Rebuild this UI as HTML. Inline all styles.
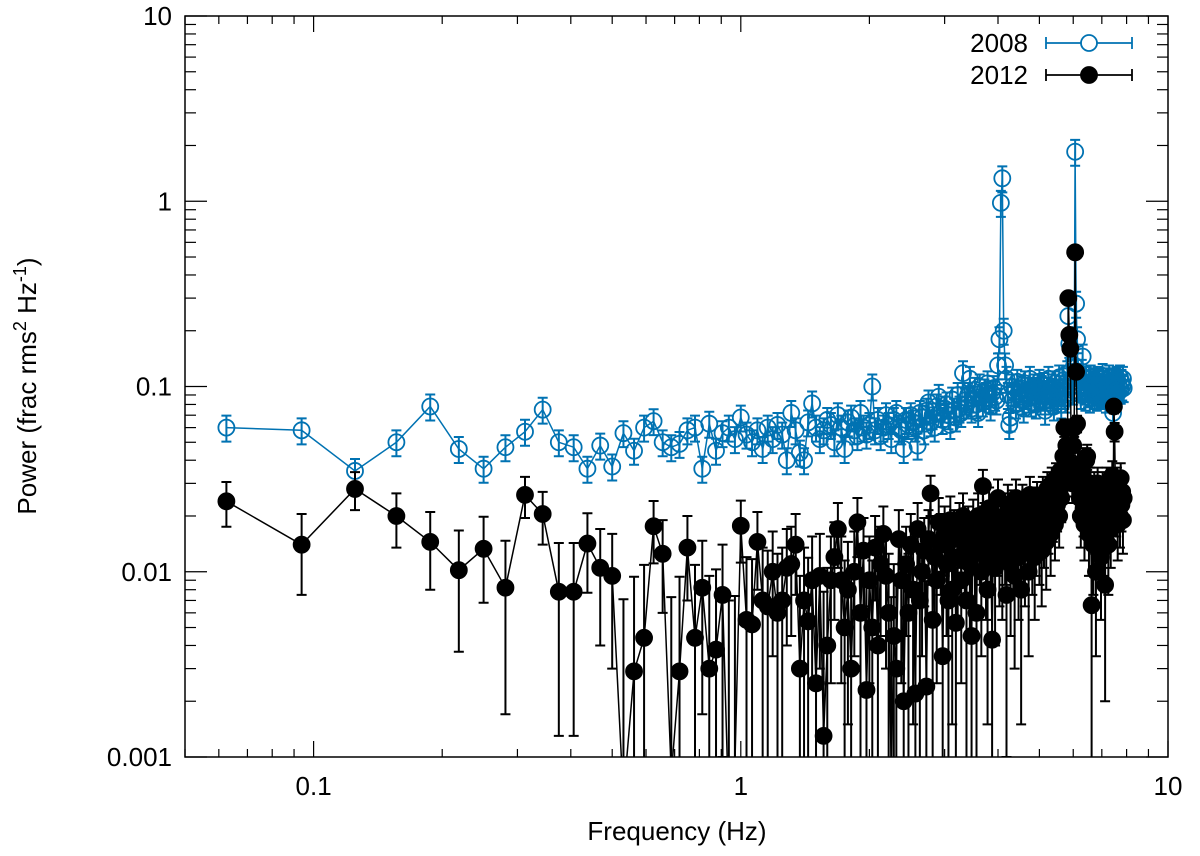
<!DOCTYPE html>
<html><head><meta charset="utf-8"><style>
html,body{margin:0;padding:0;background:#fff;width:1200px;height:856px;overflow:hidden}
svg{display:block;font-family:"Liberation Sans",sans-serif}
</style></head><body>
<svg id="chart" width="1200" height="856" viewBox="0 0 1200 856" xmlns="http://www.w3.org/2000/svg">
<defs><clipPath id="clip"><rect x="185" y="16" width="983" height="741"/></clipPath></defs>
<g id="plot" clip-path="url(#clip)"></g>
<rect x="185" y="16" width="983" height="741" fill="none" stroke="#000" stroke-width="1.5"/>
<g id="axes"></g>
<text x="677" y="840" font-size="26" text-anchor="middle">Frequency (Hz)</text>
<text transform="translate(36,386) rotate(-90)" font-size="26" text-anchor="middle">Power (frac rms<tspan dy="-10" font-size="18">2</tspan><tspan dy="10"> Hz</tspan><tspan dy="-10" font-size="18">-1</tspan><tspan dy="10">)</tspan></text>
<g id="legend"></g>
</svg>
<script>
const binWidth = 1/32;
const startBin = 2;
const xTickValues = [0.1, 1, 10];
const xTickLabels = ["0.1", "1", "10"];
const yTickValues = [0.001, 0.01, 0.1, 1, 10];
const yTickLabels = ["0.001", "0.01", "0.1", "1", "10"];
const seriesNames = ["2008", "2012"];
const blueRelErr = 0.16;
const blackAbsErr = 0.0065;
const power2008 = [0.060,0.058,0.035,0.050,0.078,0.046,0.036,0.047,0.057,0.075,0.050,0.047,0.036,0.048,0.037,0.056,0.045,0.060,0.065,0.050,0.047,0.049,0.058,0.060,0.036,0.063,0.045,0.056,0.060,0.052,0.068,
0.055,0.050,0.058,0.046,0.060,0.052,0.062,0.055,0.040,0.072,0.058,0.044,0.040,0.064,0.081,0.060,0.052,0.058,0.066,0.062,0.050,0.070,0.060,0.046,0.064,0.068,0.058,0.054,0.072,0.060,0.055,0.062,
0.100,0.058,0.066,0.054,0.060,0.070,0.062,0.052,0.066,0.072,0.060,0.058,0.046,0.066,0.062,0.070,0.064,0.060,0.048,0.072,0.068,0.058,0.074,0.082,0.064,0.070,0.060,0.078,0.088,0.072,0.066,0.076,
0.080,0.070,0.062,0.085,0.074,0.068,0.090,0.076,0.072,0.118,0.084,0.080,0.090,0.110,0.076,0.086,0.096,0.080,0.072,0.100,0.088,0.082,0.094,0.090,0.104,0.086,0.078,0.092,0.098,0.088,0.084,0.130,0.180,
0.98,1.33,0.20,0.13,0.11,
0.090,0.062,0.068,0.100,0.086,0.094,0.080,0.106,0.092,0.088,0.098,0.084,0.076,0.104,0.090,0.096,0.086,0.110,0.082,0.094,0.100,0.088,0.080,0.096,0.092,0.106,0.084,0.098,0.090,0.102,0.074,0.088,0.096,0.110,0.092,0.084,0.100,0.088,0.078,0.104,0.094,0.090,0.086,0.112,0.098,0.080,0.094,0.108,0.090,0.086,0.100,0.118,
0.24,0.17,0.12,0.10,0.11,0.095,0.13,1.85,0.28,0.18,0.12,0.10,
0.100,0.090,0.120,0.145,0.105,0.095,0.088,0.110,0.098,0.092,0.104,0.086,0.112,0.100,0.094,0.108,0.090,0.102,0.096,0.088,0.110,0.098,0.106,0.092,0.100,0.094,0.114,0.090,0.104,0.096,0.086,0.108,0.100,0.094,0.112,0.098,0.090,0.106,0.102,0.072,0.096,0.108,0.094,0.100,0.110,0.092,0.104,0.098,0.112,0.096,0.106,0.100,0.110,0.098];
const power2012 = [0.024,0.014,0.028,0.020,0.0145,0.0102,0.0133,0.0082,0.026,0.0205,0.0078,0.0078,0.0142,0.0105,0.0095,0.0006,0.0029,0.0044,0.0176,0.0125,0.0008,0.0029,0.0135,0.0044,0.0082,0.0030,0.0038,0.0075,0.0005,0.0009,0.0177,
0.0055,0.0052,0.0145,0.0070,0.0065,0.0100,0.0060,0.0070,0.0105,0.0110,0.0140,0.0030,0.0070,0.0054,0.0090,0.0025,0.0095,0.0013,0.0040,0.0090,0.0120,0.0170,0.0090,0.0050,0.0080,0.0030,0.0100,0.0185,0.0060,0.0130,0.0023,0.0090,
0.0050,0.0135,0.0040,0.0110,0.0160,0.0095,0.0060,0.0008,0.0045,0.0030,0.0150,0.0090,0.0020,0.0110,0.0060,0.0140,0.0080,0.0022,0.0170,0.0070,0.0100,0.0130,0.0024,0.0150,0.0265,0.0055,0.0120,0.0090,0.0185,0.0140,0.0035,0.0160,
0.0110,0.0070,0.0190,0.0080,0.0150,0.0053,0.0120,0.0170,0.0090,0.0200,0.0140,0.0070,0.0160,0.0110,0.0045,0.0180,0.0130,0.0060,0.0200,0.0150,0.0100,0.0290,0.0170,0.0120,0.0080,0.0220,0.0140,0.0043,0.0190,0.0105,0.0160,0.0250,0.0130,
0.0180,0.0120,0.0200,0.0150,0.0075,0.0230,0.0170,0.0110,0.0210,0.0140,0.0095,0.0250,0.0160,0.0120,0.0190,0.0080,0.0230,0.0150,0.0130,0.0210,0.0170,0.0100,0.0260,0.0180,0.0140,0.0220,0.0120,0.0160,0.0240,0.0190,0.0150,0.0200,0.0130,0.0260,0.0170,0.0220,0.0145,0.0280,0.0190,0.0240,0.0160,0.0300,0.0210,0.0250,0.0180,0.0320,0.0230,0.0270,0.0200,0.0350,0.0250,0.0300,0.0420,0.0600,0.0380,0.0480,0.0320,
0.30,0.19,0.16,0.036,0.030,0.048,0.060,0.53,0.12,0.063,0.038,0.030,
0.025,0.020,0.028,0.034,0.022,0.018,0.026,0.040,0.042,0.024,0.016,0.030,0.020,0.0066,0.022,0.014,0.028,0.019,0.010,0.024,0.030,0.018,0.026,0.022,0.012,0.020,0.028,0.016,0.024,0.0085,0.019,0.030,0.022,0.014,0.026,0.020,0.017,0.025,0.033,0.021,0.078,0.057,0.028,0.022,0.030,0.018,0.026,0.024,0.020,0.032,0.023,0.027,0.019,0.025];

const NS = "http://www.w3.org/2000/svg";
const L = 185, R = 1168, T = 16, B = 757;
const xmin = 0.05, xmax = 10, ymin = 0.001, ymax = 10;
function xs(v){ return L + (Math.log10(v) - Math.log10(xmin)) / (Math.log10(xmax) - Math.log10(xmin)) * (R - L); }
function ys(v){ return B - (Math.log10(v) - Math.log10(ymin)) / (Math.log10(ymax) - Math.log10(ymin)) * (B - T); }
function mk(tag, attrs, parent){ const e = document.createElementNS(NS, tag); for (const k in attrs) e.setAttribute(k, attrs[k]); parent.appendChild(e); return e; }

const axes = document.getElementById('axes');
for (let d = -2; d <= 1; d++) {
  for (let m = 1; m <= 9; m++) {
    const v = m * Math.pow(10, d);
    if (v < xmin - 1e-9 || v > xmax + 1e-9) continue;
    const x = xs(v), len = m === 1 ? 16 : 8;
    const t1 = mk('line', {x1:x, y1:B, x2:x, y2:B-len, stroke:'#000', 'stroke-width':1.2}, axes);
    
    
    const t2 = mk('line', {x1:x, y1:T, x2:x, y2:T+len, stroke:'#000', 'stroke-width':1.2}, axes);
    
    
  }
}
xTickValues.forEach((v, i) => {
  const t = mk('text', {x: xs(v), y: 795, 'font-size': 26, 'text-anchor': 'middle'}, axes);
  t.textContent = xTickLabels[i];
  
  
});
for (let d = -3; d <= 1; d++) {
  for (let m = 1; m <= 9; m++) {
    const v = m * Math.pow(10, d);
    if (v > ymax + 1e-9) continue;
    const y = ys(v), len = m === 1 ? 22 : 11;
    const t1 = mk('line', {x1:L, y1:y, x2:L+len, y2:y, stroke:'#000', 'stroke-width':1.2}, axes);
    
    
    const t2 = mk('line', {x1:R, y1:y, x2:R-len, y2:y, stroke:'#000', 'stroke-width':1.2}, axes);
    
    
  }
}
yTickValues.forEach((v, i) => {
  const t = mk('text', {x: 172, y: ys(v) + 9, 'font-size': 26, 'text-anchor': 'end'}, axes);
  t.textContent = yTickLabels[i];
  
  
});

const plot = document.getElementById('plot');
function drawSeries(vals, color, filled, errFn, name){
  const g = mk('g', {}, plot);
  
  
  const pts = vals.map((v, i) => [xs((startBin + i) * binWidth), ys(v), v]);
  const pl = mk('polyline', {points: pts.map(p => p[0].toFixed(1) + ',' + p[1].toFixed(1)).join(' '), fill:'none', stroke:color, 'stroke-width':1.5}, g);
  
  
  pts.forEach(p => {
    const [lo, hi] = errFn(p[2]);
    const y1 = ys(hi), y2 = lo > 0 ? Math.min(ys(lo), B + 20) : B + 20;
    const eb = mk('path', {d:`M${p[0]},${y1}V${y2}M${p[0]-5},${y1}H${p[0]+5}M${p[0]-5},${y2}H${p[0]+5}`, stroke:color, 'stroke-width':2, fill:'none'}, g);
    
    
  });
  pts.forEach(p => {
    const c = mk('circle', {cx:p[0], cy:p[1], r:8, fill: filled ? color : 'none', stroke:color, 'stroke-width':1.8}, g);
    
    
  });
}
drawSeries(power2008, '#0072b2', false, v => [v * (1 - blueRelErr), v * (1 + blueRelErr)], '2008');
drawSeries(power2012, '#000', true, v => [v - blackAbsErr, v + blackAbsErr], '2012');

const leg = document.getElementById('legend');
[['#0072b2', false, 43], ['#000', true, 75]].forEach((s, i) => {
  const t = mk('text', {x: 1028, y: s[2] + 9, 'font-size': 26, 'text-anchor': 'end'}, leg);
  t.textContent = seriesNames[i];
  
  
  const l = mk('path', {d:`M1046,${s[2]}H1132M1046,${s[2]-6}V${s[2]+6}M1132,${s[2]-6}V${s[2]+6}`, stroke:s[0], 'stroke-width':1.8, fill:'none'}, leg);
  
  
  const c = mk('circle', {cx:1089, cy:s[2], r:8, fill: s[1] ? s[0] : '#fff', stroke:s[0], 'stroke-width':1.8}, leg);
  
  
});
</script>
</body></html>
